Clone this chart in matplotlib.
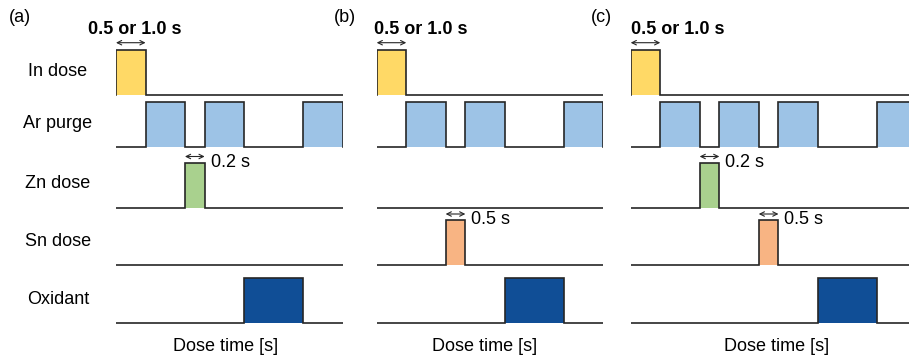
import matplotlib.pyplot as plt

plt.rcParams['font.family'] = ['Liberation Sans', 'DejaVu Sans']

# ROWS AND COLOURS
rows = ["In dose", "Ar purge", "Zn dose", "Sn dose", "Oxidant"]
colors = ["#FFD966", "#9DC3E6", "#A9D18E", "#F8B483", "#104E96"]

# PULSES (start, duration) PER PANEL, IN TIME UNITS
panel_a = [
    [(0, 3)],
    [(3, 4), (9, 4), (19, 4)],
    [(7, 2)],
    [],
    [(13, 6)],
]
panel_b = [
    [(0, 3)],
    [(3, 4), (9, 4), (19, 4)],
    [],
    [(7, 2)],
    [(13, 6)],
]
panel_c = [
    [(0, 3)],
    [(3, 4), (9, 4), (15, 4), (25, 4)],
    [(7, 2)],
    [(13, 2)],
    [(19, 6)],
]
panels = [panel_a, panel_b, panel_c]
panel_names = ["(a)", "(b)", "(c)"]
panel_ends = [23, 23, 29]

# PULSE LABELS
dose_label = "0.5 or 1.0 s"
zn_label = "0.2 s"
sn_label = "0.5 s"

# LAYOUT (pixels)
W, H = 909, 363
unit = 9.85
lefts = [116, 376.7, 630.7]
baselines = [94.7, 146.7, 207.5, 265, 323.3]
height = 45
line_color = "#262626"
dose_text_shift = [-2.8, -0.25, 0.0]
xlabel_pos = [11.1, 11.0, 14.8]
letter_x = [20, 345, 601]

fig = plt.figure(figsize=(W / 100, H / 100), dpi=100)

for p, pulses_rows in enumerate(panels):

    width_px = min(panel_ends[p] * unit, W - lefts[p])
    ax = fig.add_axes([lefts[p] / W, 0, width_px / W, 1])
    ax.set_xlim(0, width_px / unit)
    ax.set_ylim(H, 0)
    ax.axis('off')

    for r, pulses in enumerate(pulses_rows):

        base = baselines[r]
        top = base - height

        # filled pulses
        ax.broken_barh(
            pulses,
            (top, height),
            facecolors=colors[r],
            edgecolor='none'
        )

        # outline waveform
        xs = [0]
        ys = [base]
        for s, d in pulses:
            xs += [s, s, s + d, s + d]
            ys += [base, top, top, base]
        xs.append(panel_ends[p])
        ys.append(base)

        ax.plot(
            xs,
            ys,
            color=line_color,
            lw=1.2,
            solid_joinstyle='miter'
        )

        # annotations
        if r == 0:
            s, d = pulses[0]
            ax.annotate(
                '',
                xy=(s, top - 7),
                xytext=(s + d, top - 7),
                arrowprops=dict(arrowstyle='<->', lw=0.8,
                                color=line_color,
                                shrinkA=0, shrinkB=0,
                                mutation_scale=8),
                annotation_clip=False
            )
            ax.text(
                s + dose_text_shift[p],
                29,
                dose_label,
                fontsize=13,
                fontweight='bold',
                ha='left',
                va='center',
                clip_on=False
            )

        if r in (2, 3) and pulses:
            s, d = pulses[0]
            ax.annotate(
                '',
                xy=(s, top - 6),
                xytext=(s + d, top - 6),
                arrowprops=dict(arrowstyle='<->', lw=0.8,
                                color=line_color,
                                shrinkA=0, shrinkB=0,
                                mutation_scale=8)
            )
            ax.text(
                s + d + 0.6,
                top,
                zn_label if r == 2 else sn_label,
                fontsize=13,
                ha='left',
                va='center'
            )

    ax.text(
        xlabel_pos[p],
        346.5,
        "Dose time [s]",
        fontsize=13,
        ha='center',
        va='center'
    )

    fig.text(
        letter_x[p] / W,
        1 - 18 / H,
        panel_names[p],
        fontsize=13,
        ha='center',
        va='center'
    )

# ROW LABELS
for r, name in enumerate(rows):
    fig.text(
        58 / W,
        1 - (baselines[r] - height / 2 - 1) / H,
        name,
        fontsize=13,
        ha='center',
        va='center'
    )

fig.savefig("out.png", dpi=100, facecolor='white')
